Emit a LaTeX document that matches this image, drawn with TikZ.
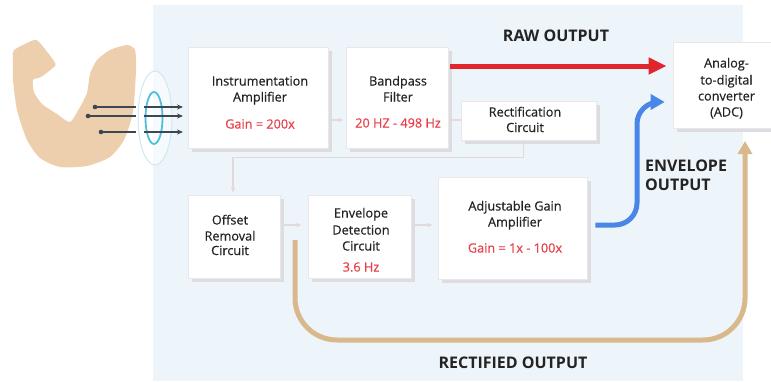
\documentclass[tikz,border=0pt]{standalone}
\usepackage{fontspec}
\setmainfont{Open Sans}
\newfontfamily\labelfont[FakeBold=0.45]{Open Sans}
\usetikzlibrary{arrows.meta,calc}

\definecolor{panel}{HTML}{EEF5FA}
\definecolor{shade}{HTML}{DCDCE1}
\definecolor{edge}{HTML}{E8E8EC}
\definecolor{conn}{HTML}{E3D8DB}
\definecolor{rawred}{HTML}{E0262C}
\definecolor{redtxt}{HTML}{E8414A}
\definecolor{envblue}{HTML}{4A86E8}
\definecolor{rectan}{HTML}{D9B88C}
\definecolor{skin}{HTML}{EDCFAE}
\definecolor{ink}{HTML}{232323}
\definecolor{wire}{HTML}{3D4752}
\definecolor{ringout}{HTML}{CFE7F3}
\definecolor{ringin}{HTML}{4EC0DE}

\tikzset{
  box/.style={draw=edge, line width=0.6pt, fill=white, inner sep=0pt,
    preaction={fill=shade, transform canvas={shift={(3.5pt,-3.5pt)}}}},
  txt/.style={anchor=base, inner sep=0pt, text=ink, font=\labelfont\fontsize{12.7}{15}\selectfont},
  redt/.style={txt, text=redtxt},
  head/.style={anchor=base, inner sep=0pt, text=ink, font=\fontsize{16}{19}\selectfont\bfseries},
  connector/.style={draw=conn, line width=1.1pt, -{Latex[length=5pt,width=5pt]}},
  plainconn/.style={draw=conn, line width=1.1pt},
  output/.style={line width=5pt},
  probe/.style={draw=wire, line width=1.4pt},
}

\begin{document}
\begin{tikzpicture}[x=1pt, y=-1pt]
\useasboundingbox (0,0) rectangle (771,381);

% light panel behind the signal chain
\fill[panel] (153,5) rectangle (743,381);

% flexed arm
\fill[skin] plot[smooth cycle, tension=0.4] coordinates {
  (14,50) (34,40) (40,43) (54,61) (55,66) (41,77) (33,80) (34,92)
  (42,104) (57,114) (70,122) (80,107) (87,93) (90,74) (97,60) (110,50)
  (127,45) (135,50) (136,70) (133,112) (124,140) (110,157) (87,166)
  (60,167) (40,158) (27,140) (17,110) (13,80) (13,58)};

% electrode rings
\draw[ringout, line width=1pt, fill=white, fill opacity=0.55] (155,118) ellipse [x radius=17, y radius=47];
\draw[ringin, line width=1.8pt] (154,118) ellipse [x radius=8.5, y radius=26];

% electrode leads
\foreach \n/\x/\y in {a/95/107, b/88/116, c/101/132} {
  \coordinate (lead\n) at (\x,\y);
  \coordinate (gap\n) at (136,\y);
  \coordinate (rest\n) at (144,\y);
  \coordinate (tip\n) at (183,\y);
  \fill[wire] (lead\n) circle (2.3pt);
  \draw[probe] (lead\n) -- (gap\n);
  \draw[probe, -{Stealth[length=6pt,width=5pt]}] (rest\n) -- (tip\n);
}

% processing blocks
\node[box, minimum width=140pt, minimum height=101pt] (ia)  at (258,97.5) {};
\node[box, minimum width=102pt, minimum height=101pt] (bp)  at (397,97.5) {};
\node[box, minimum width=135pt, minimum height=39pt]  (rc)  at (528.5,120.5) {};
\node[box, minimum width=92pt,  minimum height=83pt]  (off) at (234,236.5) {};
\node[box, minimum width=103pt, minimum height=83pt]  (env) at (359.5,236.5) {};
\node[box, minimum width=149pt, minimum height=102pt] (adj) at (512.5,228) {};
\node[box, minimum width=107pt, minimum height=86pt]  (adc) at (726.5,85) {};

% block labels
\node[txt]  (ia1) at (260,85.5)  {Instrumentation};
\node[txt]  (ia2) at (260,101.5) {Amplifier};
\node[redt] (ia3) at (260,128.5) {Gain = 200x};

\node[txt]  (bp1) at (398,85.5)  {Bandpass};
\node[txt]  (bp2) at (398,101.5) {Filter};
\node[redt] (bp3) at (398,127.5) {20 HZ - 498 Hz};

\node[txt]  (rc1) at (525,116.5) {Rectification};
\node[txt]  (rc2) at (525,132) {Circuit};

\node[txt]  (of1) at (230,224.5) {Offset};
\node[txt]  (of2) at (230,240.5) {Removal};
\node[txt]  (of3) at (230,255) {Circuit};

\node[txt]  (en1) at (361,217.5) {Envelope};
\node[txt]  (en2) at (361,234.5) {Detection};
\node[txt]  (en3) at (361,250.5) {Circuit};
\node[redt] (en4) at (361,271.5) {3.6 Hz};

\node[txt]  (ad1) at (515,210.5) {Adjustable Gain};
\node[txt]  (ad2) at (515,226.5) {Amplifier};
\node[redt] (ad3) at (515,252.5) {Gain = 1x - 100x};

\node[txt]  (ac1) at (726.5,67.5)  {Analog-};
\node[txt]  (ac2) at (726.5,84.5)  {to-digital};
\node[txt]  (ac3) at (726.5,100.5) {converter};
\node[txt]  (ac4) at (726.5,116.5) {(ADC)};

% faint signal-flow connectors
\draw[connector] ([xshift=3pt,yshift=-22.5pt]ia.east) -- ([xshift=-2pt,yshift=-22.5pt]bp.west);
\draw[plainconn] ([xshift=2pt,yshift=-22.5pt]bp.east) -- ([yshift=0.5pt]rc.west);
\draw[connector] ([xshift=-5pt]rc.south) -- ++(0,17.5) -| ([xshift=-1pt,yshift=2pt]off.north);
\draw[connector] ([xshift=4pt,yshift=11.5pt]off.east) -- ([xshift=-6pt,yshift=11.5pt]env.west);
\draw[connector] ([xshift=4pt,yshift=11.5pt]env.east) -- ([xshift=-5pt,yshift=3pt]adj.west);

% raw output
\draw[output, draw=rawred, -{Triangle[length=18pt,width=16pt]}]
  ([xshift=2pt,yshift=31.5pt]bp.east) -- ([xshift=-6pt,yshift=19pt]adc.west);
\node[head] (rawlbl) at (556,41.8) {RAW OUTPUT};

% envelope output
\coordinate (envbend) at (637,102);
\draw[output, draw=envblue, rounded corners=22pt, -{Triangle[length=14pt,width=15pt]}]
  ([xshift=8pt,yshift=3pt]adj.east) -| (envbend) -- ([xshift=-8pt,yshift=-17pt]adc.west);
\node[head, anchor=base west] (envlbl1) at (645,171.8) {ENVELOPE};
\node[head, anchor=base west] (envlbl2) at (645,190.8) {OUTPUT};

% rectified output
\coordinate (rectstart) at (295,240);
\coordinate (rectcorner) at (745,340);
\coordinate (recttip) at (745,141);
\draw[output, draw=rectan, rounded corners=42pt, -{Triangle[length=13pt,width=14pt]}]
  (rectstart) |- (rectcorner) -- (recttip);
\node[head] (rectlbl) at (513,368.8) {RECTIFIED OUTPUT};

\end{tikzpicture}
\end{document}
